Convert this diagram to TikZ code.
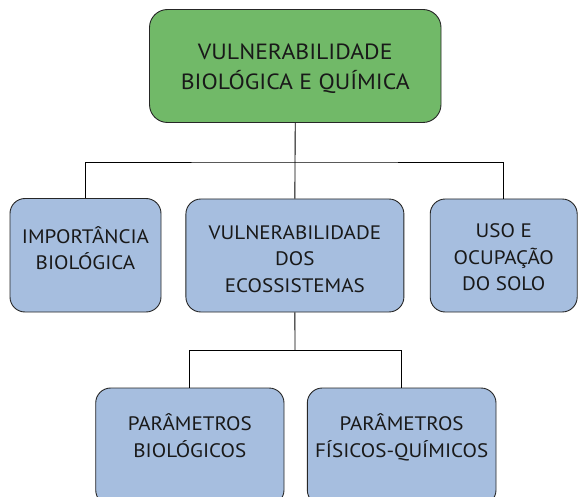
\documentclass[tikz,border=0pt]{standalone}
\usepackage{fontspec}
\setmainfont[FakeStretch=1.08]{PT Sans}
\begin{document}
\begin{tikzpicture}[x=1pt,y=-1pt,
  boxbase/.style={draw=black!85,line width=0.9pt,rounded corners=15pt,inner sep=0pt},
  greenbox/.style={boxbase,fill=boxgreen,rounded corners=18pt},
  bluebox/.style={boxbase,fill=boxblue},
  toptext/.style={align=center,font=\fontsize{22}{30}\selectfont,text=black!90,inner sep=0pt},
  midtext/.style={align=center,font=\fontsize{19.5}{26.5}\selectfont,text=black!90,inner sep=0pt},
  link/.style={draw=black,line width=0.9pt}]
\definecolor{boxgreen}{RGB}{113,185,104}
\definecolor{boxblue}{RGB}{166,190,223}
\useasboundingbox (0,0) rectangle (578,497);
\clip (0,0) rectangle (578,497);
% boxes
\node[greenbox,minimum width=291.5pt,minimum height=113pt] (top) at (295.25,66) {};
\node[bluebox,minimum width=151pt,minimum height=113.5pt] (imp) at (85.5,255.25) {};
\node[bluebox,minimum width=218pt,minimum height=113pt] (vul) at (294.9,255.5) {};
\node[bluebox,minimum width=147pt,minimum height=113pt] (uso) at (503.7,255.5) {};
\node[bluebox,minimum width=188.3pt,minimum height=117pt] (pb) at (189.85,446.5) {};
\node[bluebox,minimum width=188.7pt,minimum height=117pt] (pfq) at (401.65,446.5) {};
% texts
\node[toptext] (topT) at ([yshift=-3pt]top.center) {VULNERABILIDADE\\BIOLÓGICA E QUÍMICA};
\node[midtext] (impT) at ([yshift=7pt]imp.center) {IMPORTÂNCIA\\BIOLÓGICA};
\node[midtext] (vulT) at ([yshift=-3.5pt]vul.center) {VULNERABILIDADE\\DOS\\ECOSSISTEMAS};
\node[midtext] (usoT) at ([yshift=-2pt]uso.center) {USO E\\OCUPAÇÃO\\DO SOLO};
\node[midtext] (pbT) at ([yshift=11pt]pb.center) {PARÂMETROS\\BIOLÓGICOS};
\node[midtext] (pfqT) at ([yshift=9pt]pfq.center) {PARÂMETROS\\FÍSICOS-QUÍMICOS};
% connectors
\coordinate (j1) at (295,162);
\coordinate (j2) at (295,350.7);
\draw[link] (top.south) -- (j1);
\draw[link] (imp.north) |- (j1) -| (uso.north);
\draw[link] (j1) -- (vul.north);
\draw[link] (vul.south) -- (j2);
\draw[link] (pb.north) |- (j2) -| (pfq.north);
\end{tikzpicture}
\end{document}
